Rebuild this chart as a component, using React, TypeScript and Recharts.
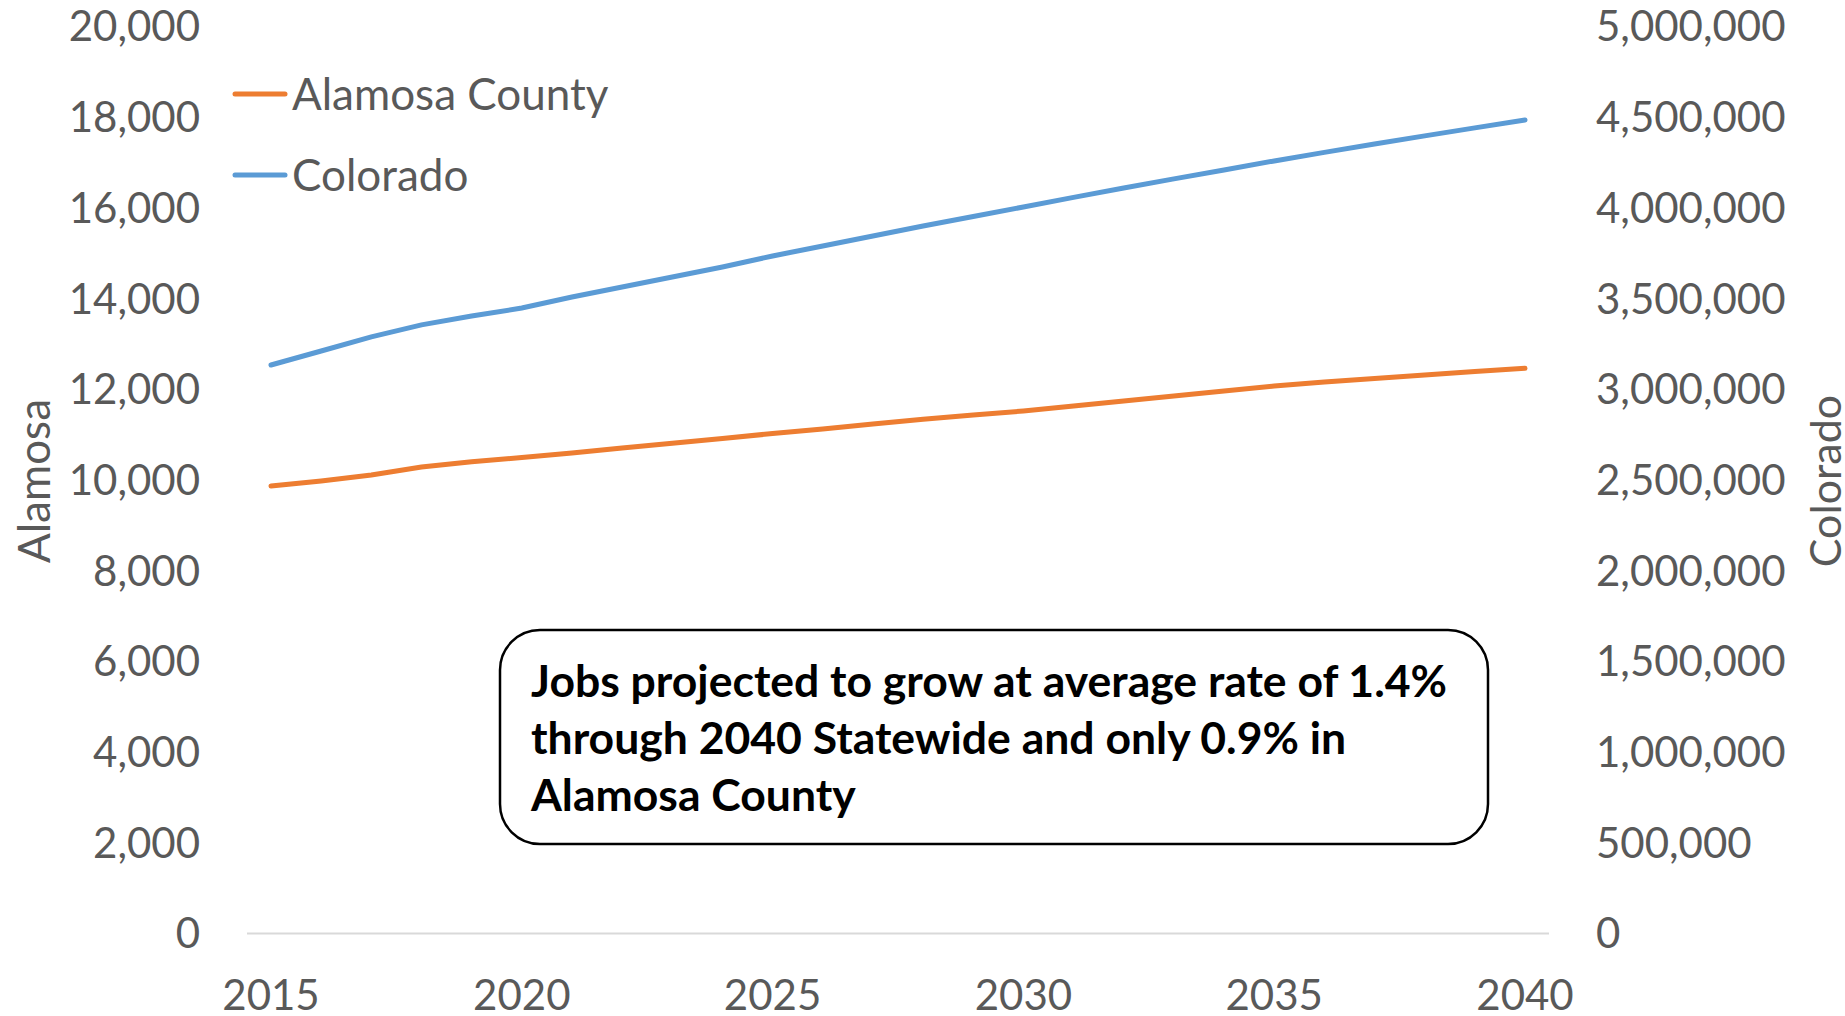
import React from 'react';
import { LineChart, Line, XAxis, YAxis, Legend, Customized } from 'recharts';

const years = ['2015','2016','2017','2018','2019','2020','2021','2022','2023','2024','2025','2026','2027','2028','2029','2030','2031','2032','2033','2034','2035','2036','2037','2038','2039','2040'];
const alamosa = [9867, 9978, 10110, 10286, 10403, 10496, 10595, 10705, 10809, 10915, 11025, 11124, 11234, 11338, 11433, 11521, 11631, 11742, 11852, 11962, 12072, 12160, 12238, 12315, 12392, 12463];
const colorado = [3134000, 3211000, 3289000, 3355000, 3404000, 3448000, 3509000, 3564000, 3619000, 3674000, 3735000, 3790000, 3845000, 3900000, 3953000, 4005000, 4058000, 4110000, 4160000, 4209000, 4259000, 4306000, 4352000, 4397000, 4441000, 4485000];
const leftTicks = [0, 2000, 4000, 6000, 8000, 10000, 12000, 14000, 16000, 18000, 20000];
const rightTicks = [0, 500000, 1000000, 1500000, 2000000, 2500000, 3000000, 3500000, 4000000, 4500000, 5000000];
const seriesNames = ['Alamosa County', 'Colorado'];
const axisTitles = ['Alamosa', 'Colorado'];
const noteLines = [
  'Jobs projected to grow at average rate of 1.4%',
  'through 2040 Statewide and only 0.9% in',
  'Alamosa County',
];

const data = years.map((y, i) => ({ year: y, alamosa: alamosa[i], colorado: colorado[i] }));

const GRAY = '#595959';
const FONT = 'Lato, "Open Sans", sans-serif';
const fmt = (v: number) => v.toLocaleString('en-US');

const tickStyle = { fill: GRAY, fontSize: 42, fontFamily: FONT };

const LegendContent = (props: any) => {
  const payload = props.payload || [];
  return (
    <div style={{ fontFamily: FONT, fontSize: 44, color: GRAY }}>
      {payload.map((p: any) => (
        <div key={p.value} style={{ display: 'flex', alignItems: 'center', height: 81 }}>
          <svg width={56} height={10} style={{ display: 'block' }}>
            <line x1={3} y1={5} x2={53} y2={5} stroke={p.color} strokeWidth={5} strokeLinecap="round" />
          </svg>
          <span style={{ marginLeft: 4, lineHeight: '81px' }}>{p.value}</span>
        </div>
      ))}
    </div>
  );
};

const Overlay = () => (
  <g>
    <text x={33} y={481} transform="rotate(-90, 33, 481)" textAnchor="middle" dominantBaseline="central"
      fill={GRAY} fontSize={44} fontFamily={FONT}>{axisTitles[0]}</text>
    <text x={1824} y={481} transform="rotate(-90, 1824, 481)" textAnchor="middle" dominantBaseline="central"
      fill={GRAY} fontSize={43} fontFamily={FONT}>{axisTitles[1]}</text>
    <rect x={500} y={630} width={988} height={214} rx={40} ry={40} fill="#fff" stroke="#000" strokeWidth={2.5} />
    {noteLines.map((t, i) => (
      <text key={i} x={531} y={697 + i * 57} fill="#000" fontSize={44.5} fontWeight="bold" fontFamily={FONT}>{t}</text>
    ))}
  </g>
);

export default function App() {
  return (
    <div style={{ position: 'absolute', left: 0, top: 0, width: 1845, height: 1016, background: '#fff' }}>
      <LineChart width={1845} height={1016} data={data} margin={{ top: 26.5, right: 0, bottom: 0.5, left: 0 }}>
        <XAxis dataKey="year" interval={4} padding={{ left: 24, right: 24 }} height={82}
          axisLine={{ stroke: '#D9D9D9', strokeWidth: 2 }} tickLine={false} tickSize={0} tickMargin={47}
          tick={tickStyle} />
        <YAxis yAxisId="left" width={247} domain={[0, 20000]} ticks={leftTicks} interval={0}
          axisLine={false} tickLine={false} tickSize={0} tickMargin={47} tick={tickStyle} tickFormatter={fmt} />
        <YAxis yAxisId="right" orientation="right" width={296} domain={[0, 5000000]} ticks={rightTicks} interval={0}
          axisLine={false} tickLine={false} tickSize={0} tickMargin={47} tick={tickStyle} tickFormatter={fmt} />
        <Line yAxisId="left" type="linear" dataKey="alamosa" name={seriesNames[0]} stroke="#ED7D31" strokeWidth={5}
          strokeLinecap="round" dot={false} activeDot={false} isAnimationActive={false} />
        <Line yAxisId="right" type="linear" dataKey="colorado" name={seriesNames[1]} stroke="#5B9BD5" strokeWidth={5}
          strokeLinecap="round" dot={false} activeDot={false} isAnimationActive={false} />
        <Legend layout="vertical" align="center" verticalAlign="middle" content={LegendContent}
          wrapperStyle={{ left: 232, top: 53, width: 'auto', height: 'auto' }} />
        <Customized component={Overlay} />
      </LineChart>
    </div>
  );
}
